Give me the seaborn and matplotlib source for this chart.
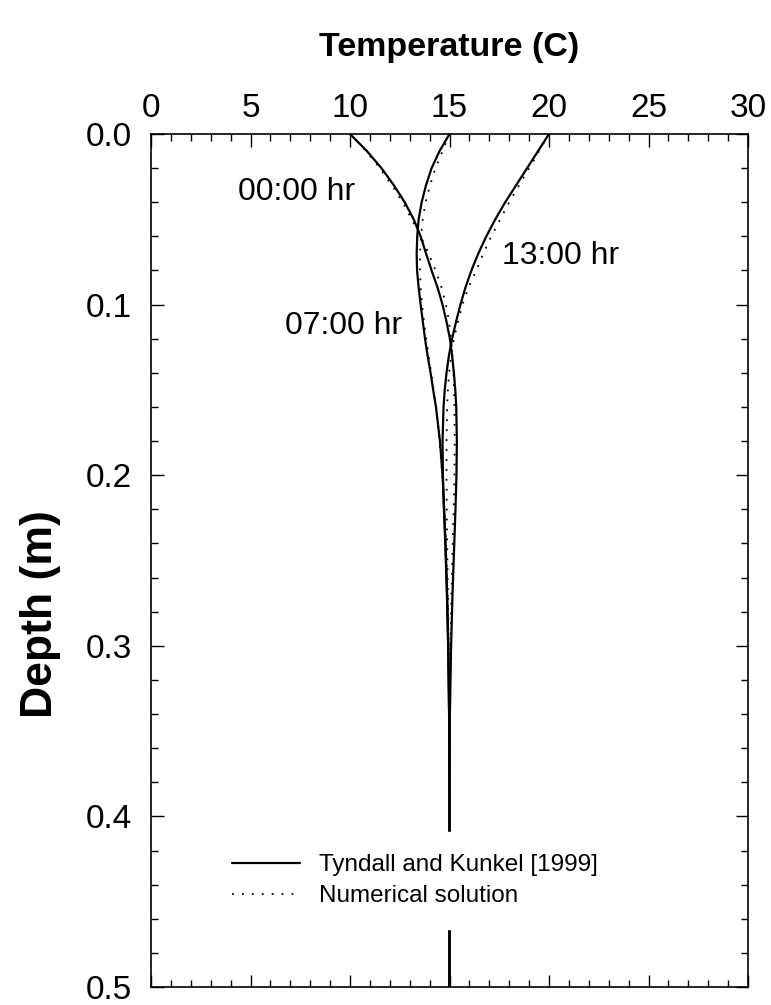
import matplotlib
matplotlib.use("Agg")
import matplotlib.pyplot as plt
from matplotlib.lines import Line2D
from matplotlib.ticker import MultipleLocator, FormatStrFormatter
import seaborn as sns
import pandas as pd

# ---- data ----
depth = [0.00, 0.01, 0.02, 0.03, 0.04, 0.05, 0.06, 0.07, 0.08, 0.09, 0.10,
         0.11, 0.12, 0.13, 0.14, 0.15, 0.16, 0.18, 0.20, 0.22, 0.24, 0.27,
         0.30, 0.34, 0.40, 0.45, 0.50]

# Tyndall and Kunkel [1999] (analytical)
t00_analytic = [10.00, 10.85, 11.58, 12.20, 12.75, 13.20, 13.55, 13.82, 14.10, 14.40, 14.65,
                14.85, 15.02, 15.13, 15.22, 15.29, 15.34, 15.37, 15.35, 15.30, 15.24, 15.15,
                15.08, 15.02, 15.00, 15.00, 15.00]
t07_analytic = [15.00, 14.50, 14.10, 13.82, 13.60, 13.45, 13.38, 13.35, 13.37, 13.45, 13.55,
                13.66, 13.77, 13.90, 14.05, 14.18, 14.32, 14.52, 14.65, 14.73, 14.80, 14.88,
                14.94, 14.98, 15.00, 15.00, 15.00]
t13_analytic = [20.00, 19.45, 18.90, 18.35, 17.80, 17.30, 16.85, 16.45, 16.10, 15.80, 15.55,
                15.33, 15.13, 14.97, 14.85, 14.76, 14.70, 14.65, 14.67, 14.72, 14.79, 14.87,
                14.93, 14.98, 15.00, 15.00, 15.00]

# Numerical solution
t00_numeric = [10.00, 10.80, 11.50, 12.10, 12.65, 13.10, 13.55, 13.95, 14.30, 14.60, 14.82,
               14.98, 15.08, 15.15, 15.20, 15.23, 15.25, 15.26, 15.25, 15.21, 15.16, 15.10,
               15.05, 15.02, 15.00, 15.00, 15.00]
t07_numeric = [15.00, 14.65, 14.30, 14.02, 13.80, 13.65, 13.57, 13.52, 13.52, 13.55, 13.62,
               13.72, 13.83, 13.95, 14.08, 14.20, 14.32, 14.50, 14.64, 14.74, 14.82, 14.90,
               14.95, 14.98, 15.00, 15.00, 15.00]
t13_numeric = [20.00, 19.50, 19.00, 18.50, 18.00, 17.55, 17.10, 16.70, 16.35, 15.95, 15.65,
               15.43, 15.22, 15.08, 14.98, 14.92, 14.88, 14.85, 14.85, 14.86, 14.88, 14.92,
               14.96, 14.99, 15.00, 15.00, 15.00]

time_labels = ["00:00 hr", "07:00 hr", "13:00 hr"]
label_pos_temp = [4.37, 6.73, 17.64]
label_pos_depth = [0.034, 0.1125, 0.0715]
legend_labels = ["Tyndall and Kunkel [1999]", "Numerical solution"]

x_ticks = [0, 5, 10, 15, 20, 25, 30]
y_ticks = [0.0, 0.1, 0.2, 0.3, 0.4, 0.5]

# ---- style ----
sns.set_style("ticks")
plt.rcParams['font.family'] = ['Liberation Sans', 'DejaVu Sans']

fig = plt.figure(figsize=(7.71, 10.05), dpi=100)
ax = fig.add_axes([151/771, 1-987/1005, (748-151)/771, (987-134)/1005])

for temps in [t00_analytic, t07_analytic, t13_analytic]:
    df = pd.DataFrame({"temp": temps, "depth": depth})
    sns.lineplot(data=df, x="temp", y="depth", sort=False, estimator=None,
                 color="black", linewidth=1.6, ax=ax, zorder=3)
for temps in [t00_numeric, t07_numeric, t13_numeric]:
    df = pd.DataFrame({"temp": temps, "depth": depth})
    sns.lineplot(data=df, x="temp", y="depth", sort=False, estimator=None,
                 color="black", linewidth=1.3, linestyle=(0, (1, 4.5)), ax=ax, zorder=2)

for lab, xt, yt in zip(time_labels, label_pos_temp, label_pos_depth):
    ax.text(xt, yt, lab, fontsize=23, ha="left", va="center", color="black")

ax.set_xlim(0, 30)
ax.set_ylim(0.5, 0.0)
ax.xaxis.tick_top()
ax.xaxis.set_label_position("top")
ax.set_xticks(x_ticks)
ax.set_yticks(y_ticks)
ax.xaxis.set_minor_locator(MultipleLocator(1))
ax.yaxis.set_minor_locator(MultipleLocator(0.02))
ax.yaxis.set_major_formatter(FormatStrFormatter("%.1f"))
ax.tick_params(axis="both", which="both", direction="in", top=True, bottom=True,
               left=True, right=True, labelsize=24, colors="black")
ax.tick_params(axis="x", which="major", pad=7)
ax.tick_params(axis="y", which="major", pad=14)
ax.tick_params(axis="both", which="major", length=9, width=1.0)
ax.tick_params(axis="both", which="minor", length=5, width=1.0)
for s in ax.spines.values():
    s.set_linewidth(1.2)
    s.set_color("black")

ax.set_xlabel("Temperature (C)", fontsize=24.5, fontweight="bold", labelpad=27,
              color="black")
ax.set_ylabel("Depth (m)", fontsize=32, fontweight="bold", color="black")
ax.yaxis.set_label_coords(-0.15, 0.437)

handles = [Line2D([0], [0], color="black", linewidth=1.6),
           Line2D([0], [0], color="black", linewidth=1.3, linestyle=(0, (1, 4.5)))]
leg = ax.legend(handles, legend_labels, loc="center", bbox_to_anchor=(0.442, 0.1245),
                fontsize=17.5, frameon=True, framealpha=1.0, edgecolor="white",
                facecolor="white", fancybox=False, handlelength=2.8, handletextpad=0.75,
                labelspacing=0.38, borderpad=0.9)
for t in leg.get_texts():
    t.set_color("black")
leg.set_zorder(5)

fig.savefig("out.png", dpi=100)
